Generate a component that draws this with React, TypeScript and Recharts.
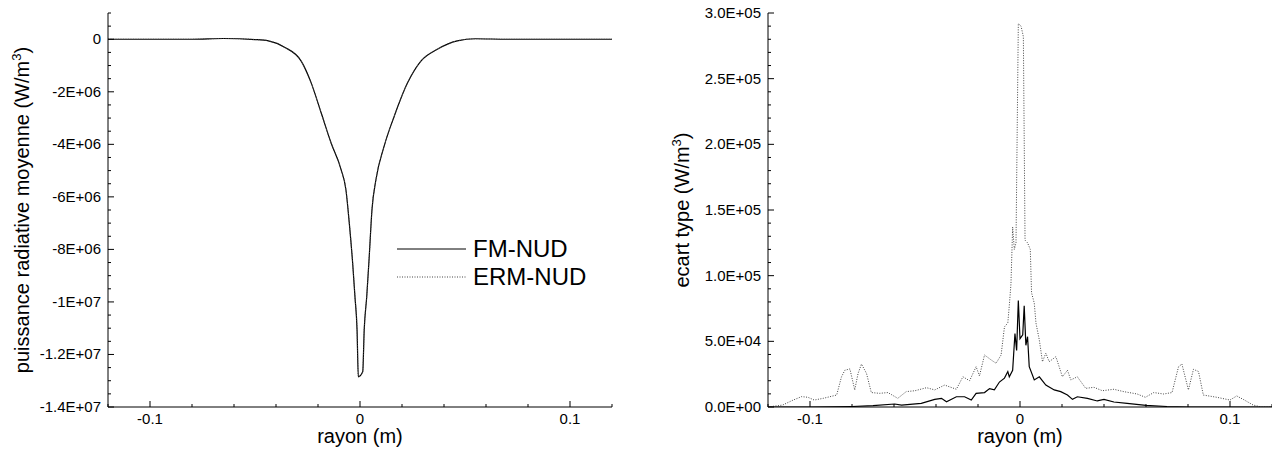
import React from "react"
import { LineChart, Line, XAxis, YAxis, Legend, Label } from "recharts"

const FONT = "'Liberation Sans', Arial, sans-serif"

// rayon (m) axis
const rayonTicks = [-0.12, -0.1, -0.08, -0.06, -0.04, -0.02, 0, 0.02, 0.04, 0.06, 0.08, 0.1, 0.12]
const rayonLabelValues = [-0.1, 0, 0.1]
const rayonLabels = ["-0.1", "0", "0.1"]

const seriesNames = ["FM-NUD", "ERM-NUD"]

// left panel: puissance radiative moyenne
const meanLabelValues = [0, -2e6, -4e6, -6e6, -8e6, -1e7, -1.2e7, -1.4e7]
const meanLabels = ["0", "-2E+06", "-4E+06", "-6E+06", "-8E+06", "-1E+07", "-1.2E+07", "-1.4E+07"]

const meanRayon = [
  -0.12, -0.1, -0.08, -0.065, -0.05, -0.0436, -0.036, -0.028, -0.0233, -0.0185, -0.0138, -0.009,
  -0.0067, -0.0051, -0.0035, -0.0024, -0.0014, -0.0008, 0.0013, 0.002, 0.0032, 0.0044, 0.0057,
  0.0076, 0.0115, 0.0163, 0.0227, 0.029, 0.0368, 0.0463, 0.055, 0.07, 0.09, 0.12,
]
const fmMean = [
  0, 0, 0, 3e4, -1e4, -6e4, -3e5, -8.3e5, -1.65e6, -2.8e6, -3.94e6, -4.96e6,
  -5.73e6, -7.0e6, -8.52e6, -9.8e6, -1.107e7, -1.285e7, -1.266e7, -1.107e7, -9.8e6, -8.27e6, -6.49e6,
  -5.34e6, -4.07e6, -2.93e6, -1.65e6, -8.3e5, -3.8e5, -6e4, 2e4, 0, 0, 0,
]
const ermMean = [
  0, 0, 0, 3e4, -1e4, -6e4, -3e5, -8.3e5, -1.65e6, -2.8e6, -3.94e6, -4.96e6,
  -5.73e6, -7.0e6, -8.52e6, -9.8e6, -1.107e7, -1.285e7, -1.266e7, -1.107e7, -9.8e6, -8.27e6, -6.49e6,
  -5.34e6, -4.07e6, -2.93e6, -1.65e6, -8.3e5, -3.8e5, -6e4, 2e4, 0, 0, 0,
]

// right panel: ecart type
const stdLabelValues = [0, 5e4, 1e5, 1.5e5, 2e5, 2.5e5, 3e5]
const stdLabels = ["0.0E+00", "5.0E+04", "1.0E+05", "1.5E+05", "2.0E+05", "2.5E+05", "3.0E+05"]

const fmStdRayon = [
  -0.12, -0.1, -0.09, -0.08, -0.07, -0.0597, -0.0564, -0.047, -0.0406, -0.0374, -0.035, -0.0303,
  -0.0264, -0.0232, -0.0209, -0.0169, -0.0145, -0.0122, -0.0098, -0.0074, -0.0058, -0.0051, -0.0035,
  -0.0024, -0.0016, -0.0008, 0, 0.0013, 0.002, 0.0028, 0.0036, 0.0044, 0.0068, 0.0092, 0.0123,
  0.0163, 0.0194, 0.0226, 0.025, 0.0273, 0.0321, 0.0368, 0.04, 0.0447, 0.051, 0.06, 0.07, 0.08, 0.12,
]
const fmStd = [
  0, 0, 100, 400, 1000, 2300, 1500, 2800, 5800, 6600, 4000, 7800,
  7800, 5300, 10400, 11000, 14000, 13000, 19000, 22000, 27000, 23000, 28000,
  56000, 43000, 81000, 52000, 55000, 77000, 47000, 53500, 30700, 20600, 23000, 16700,
  13000, 11700, 9100, 5800, 7800, 6600, 4600, 5800, 3800, 2800, 1200, 400, 0, 0,
]

const ermStdRayon = [
  -0.12, -0.113, -0.108, -0.104, -0.101, -0.098, -0.0937, -0.0873, -0.085, -0.0834, -0.081, -0.0787,
  -0.0771, -0.0755, -0.0731, -0.0708, -0.0668, -0.0629, -0.0582, -0.0542, -0.05, -0.0445, -0.0406,
  -0.0359, -0.0303, -0.0272, -0.024, -0.0209, -0.0193, -0.0169, -0.0137, -0.0114, -0.009, -0.0074,
  -0.0058, -0.005, -0.0043, -0.0035, -0.0027, -0.0019, -0.0008, 0.0005, 0.0016, 0.0024, 0.0036,
  0.0049, 0.0055, 0.0068, 0.0076, 0.0092, 0.0107, 0.0123, 0.0139, 0.0171, 0.0202, 0.0226, 0.0242,
  0.0273, 0.0313, 0.0352, 0.0392, 0.0447, 0.0494, 0.0558, 0.0597, 0.0637, 0.0684, 0.0724, 0.0755,
  0.0771, 0.0802, 0.0826, 0.085, 0.0873, 0.0937, 0.1, 0.1032, 0.1063, 0.111, 0.115, 0.12,
]
const ermStd = [
  0, 1500, 5300, 7900, 7400, 5300, 6600, 9100, 23000, 28000, 29000, 13000,
  25600, 32700, 25600, 11000, 10400, 11000, 6600, 11700, 12400, 14700, 13000,
  16700, 13500, 23000, 20000, 30700, 23600, 39600, 35800, 33300, 39600, 61000,
  64000, 79000, 94000, 137000, 120000, 125000, 292000, 290000, 282000, 127000, 125000,
  120000, 87000, 79000, 64000, 51000, 34500, 41000, 34500, 38300, 23000, 28000, 20600,
  23000, 14200, 15000, 12400, 13500, 11700, 9900, 7400, 11000, 9900, 11000, 30700,
  32700, 13000, 28700, 27000, 9100, 7400, 5300, 8400, 5800, 1500, 0, 0,
]

type Row = { x: number; fm?: number; erm?: number }

function mergeSeries(fx: number[], fy: number[], ex: number[], ey: number[]): Row[] {
  const map = new Map<number, Row>()
  fx.forEach((x, i) => {
    const r = map.get(x) || { x }
    r.fm = fy[i]
    map.set(x, r)
  })
  ex.forEach((x, i) => {
    const r = map.get(x) || { x }
    r.erm = ey[i]
    map.set(x, r)
  })
  return Array.from(map.values()).sort((a, b) => a.x - b.x)
}

const meanData = mergeSeries(meanRayon, fmMean, meanRayon, ermMean)
const stdData = mergeSeries(fmStdRayon, fmStd, ermStdRayon, ermStd)

function range(from: number, to: number, step: number) {
  const out: number[] = []
  const n = Math.round((to - from) / step)
  for (let i = 0; i <= n; i++) out.push(from + i * step)
  return out
}

const meanTicks = range(-1.4e7, 1e6, 5e5)
const stdTicks = range(0, 3e5, 1e4)

function YTick(props: any) {
  const { x, y, payload, values, labels } = props
  const idx = values.indexOf(payload.value)
  const major = idx >= 0
  return (
    <g>
      <line x1={x} y1={y} x2={x + (major ? 6 : 3)} y2={y} stroke="#000" strokeWidth={1} />
      {major && (
        <text x={x - 7} y={y + 5} textAnchor="end" fontSize={15} fill="#000" fontFamily={FONT}>
          {labels[idx]}
        </text>
      )}
    </g>
  )
}

function XTick(props: any) {
  const { x, y, payload } = props
  const idx = rayonLabelValues.indexOf(payload.value)
  const major = idx >= 0
  return (
    <g>
      <line x1={x} y1={y} x2={x} y2={y - (major ? 6 : 3)} stroke="#000" strokeWidth={1} />
      {major && (
        <text x={x} y={y + 17} textAnchor="middle" fontSize={15} fill="#000" fontFamily={FONT}>
          {rayonLabels[idx]}
        </text>
      )}
    </g>
  )
}

function yTitle(text: string, cx: number) {
  return (props: any) => {
    const vb = props.viewBox || { y: 13, height: 394 }
    const cy = vb.y + vb.height / 2
    return (
      <text
        x={cx}
        y={cy}
        transform={`rotate(-90, ${cx}, ${cy})`}
        dy={7}
        textAnchor="middle"
        fontSize={20}
        fill="#000"
        fontFamily={FONT}
      >
        <tspan>{text} (W/m</tspan>
        <tspan fontSize={13} dy={-8}>3</tspan>
        <tspan dy={8}>)</tspan>
      </text>
    )
  }
}

function xTitle(props: any) {
  const vb = props.viewBox || { x: 108, y: 407, width: 504 }
  return (
    <text x={vb.x + vb.width / 2} y={vb.y + 36} textAnchor="middle" fontSize={20} fill="#000" fontFamily={FONT}>
      rayon (m)
    </text>
  )
}

function renderLegend(props: any) {
  const payload = [...(props.payload || [])].sort(
    (a: any, b: any) => seriesNames.indexOf(a.value) - seriesNames.indexOf(b.value)
  )
  return (
    <div style={{ fontFamily: FONT }}>
      {payload.map((e: any, i: number) => (
        <div key={i} style={{ display: "flex", alignItems: "center", height: 28 }}>
          <svg width={76} height={10} style={{ display: "block" }}>
            <line
              x1={0}
              y1={5}
              x2={69}
              y2={5}
              stroke={e.color}
              strokeWidth={1}
              strokeDasharray={e.payload?.strokeDasharray}
            />
          </svg>
          <span style={{ fontSize: 24, lineHeight: "28px", color: "#000" }}>{e.value}</span>
        </div>
      ))}
    </div>
  )
}

export default function App() {
  return (
    <div style={{ position: "absolute", left: 0, top: 0, width: 1272, height: 450, background: "#fff", fontFamily: FONT }}>
      <div style={{ position: "absolute", left: 0, top: 0 }}>
        <LineChart width={636} height={450} data={meanData} margin={{ top: 13, right: 24, bottom: 13, left: 8 }}>
          <XAxis
            dataKey="x"
            type="number"
            domain={[-0.12, 0.12]}
            ticks={rayonTicks}
            allowDataOverflow
            height={30}
            tickSize={0}
            tickMargin={0}
            tickLine={false}
            interval={0}
            axisLine={{ stroke: "#000", strokeWidth: 1 }}
            tick={(p: any) => <XTick {...p} />}
            label={<Label content={xTitle} />}
          />
          <YAxis
            type="number"
            domain={[-1.4e7, 1e6]}
            ticks={meanTicks}
            allowDataOverflow
            width={100}
            tickSize={0}
            tickMargin={0}
            tickLine={false}
            interval={0}
            axisLine={{ stroke: "#000", strokeWidth: 1 }}
            tick={(p: any) => <YTick {...p} values={meanLabelValues} labels={meanLabels} />}
            label={<Label content={yTitle("puissance radiative moyenne", 22)} />}
          />
          <Legend
            layout="vertical"
            align="center"
            verticalAlign="middle"
            content={renderLegend}
            wrapperStyle={{ position: "absolute", left: 397, top: 235, width: 200 }}
          />
          <Line
            type="monotone"
            dataKey="fm"
            name="FM-NUD"
            stroke="#000"
            strokeWidth={1.2}
            dot={false}
            connectNulls
            isAnimationActive={false}
          />
          <Line
            type="monotone"
            dataKey="erm"
            name="ERM-NUD"
            stroke="#444"
            strokeWidth={1}
            strokeDasharray="1 1.5"
            dot={false}
            connectNulls
            isAnimationActive={false}
          />
        </LineChart>
      </div>
      <div style={{ position: "absolute", left: 636, top: 0 }}>
        <LineChart width={636} height={450} data={stdData} margin={{ top: 13, right: 0, bottom: 13, left: 0 }}>
          <XAxis
            dataKey="x"
            type="number"
            domain={[-0.12, 0.12]}
            ticks={rayonTicks}
            allowDataOverflow
            height={30}
            tickSize={0}
            tickMargin={0}
            tickLine={false}
            interval={0}
            axisLine={{ stroke: "#000", strokeWidth: 1 }}
            tick={(p: any) => <XTick {...p} />}
            label={<Label content={xTitle} />}
          />
          <YAxis
            type="number"
            domain={[0, 3e5]}
            ticks={stdTicks}
            allowDataOverflow
            width={132}
            tickSize={0}
            tickMargin={0}
            tickLine={false}
            interval={0}
            axisLine={{ stroke: "#000", strokeWidth: 1 }}
            tick={(p: any) => <YTick {...p} values={stdLabelValues} labels={stdLabels} />}
            label={<Label content={yTitle("ecart type", 46)} />}
          />
          <Line
            type="linear"
            dataKey="fm"
            name="FM-NUD"
            stroke="#000"
            strokeWidth={1.2}
            dot={false}
            connectNulls
            isAnimationActive={false}
          />
          <Line
            type="linear"
            dataKey="erm"
            name="ERM-NUD"
            stroke="#444"
            strokeWidth={1}
            strokeDasharray="1 1.5"
            dot={false}
            connectNulls
            isAnimationActive={false}
          />
        </LineChart>
      </div>
    </div>
  )
}
